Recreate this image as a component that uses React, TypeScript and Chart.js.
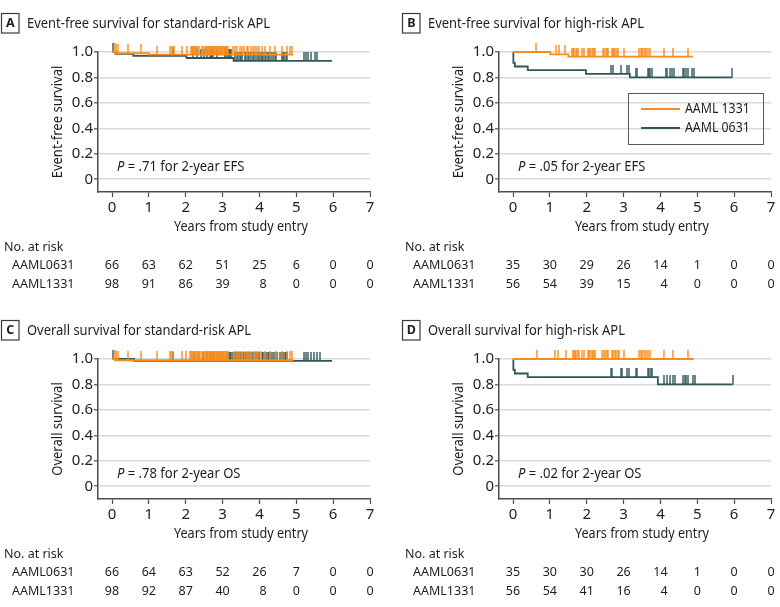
import React, { useEffect, useRef } from 'react';
import { Chart, registerables } from 'chart.js';

Chart.register(...registerables);

const FONT = '"Noto Sans", "Open Sans", Arial, sans-serif';
const ORANGE = '#F98C1C';
const TEAL = '#2F5757';
const TEXT = '#1e1e1e';
const AXIS = '#4d4d4d';
const GRID = '#d9d9d9';

// ---- tick labels & categories ----
const yearTicks = [0, 1, 2, 3, 4, 5, 6, 7];
const survivalTicks = [0, 0.2, 0.4, 0.6, 0.8, 1.0];
const riskGroups = ['AAML0631', 'AAML1331'];
const legendLabels = ['AAML 1331', 'AAML 0631'];

// ---- Panel A: EFS standard-risk ----
const efsStd0631Events = [[0.1, 0.985], [0.58, 0.969], [2.02, 0.953], [3.3, 0.93]];
const efsStd0631Censor = [0.04, 1.66, 2.2, 2.31, 2.42, 2.5, 2.57, 2.65, 2.68, 2.71, 2.74, 2.86, 3.06, 3.1, 3.15, 3.18, 3.21, 3.24, 3.35, 3.38, 3.42, 3.46, 3.5, 3.53, 3.6, 3.63, 3.68, 3.72, 3.77, 3.82, 3.86, 3.9, 3.95, 3.99, 4.03, 4.07, 4.11, 4.15, 4.19, 4.23, 4.27, 4.32, 4.36, 4.41, 4.46, 4.6, 4.63, 4.67, 4.71, 4.75, 5.2, 5.26, 5.32, 5.4, 5.5, 5.56];
const efsStd0631End = 5.97;
const efsStd1331Events = [[0.08, 0.99], [1.0, 0.98]];
const efsStd1331Censor = [0.07, 0.12, 0.16, 0.44, 0.8, 1.22, 1.58, 1.62, 1.67, 1.9, 2.04, 2.14, 2.17, 2.19, 2.21, 2.24, 2.26, 2.29, 2.31, 2.34, 2.37, 2.43, 2.48, 2.52, 2.55, 2.57, 2.6, 2.62, 2.64, 2.67, 2.69, 2.71, 2.73, 2.76, 2.78, 2.8, 2.82, 2.85, 2.87, 2.89, 2.91, 2.93, 2.95, 2.97, 2.99, 3.01, 3.03, 3.06, 3.08, 3.1, 3.12, 3.15, 3.29, 3.34, 3.4, 3.47, 3.52, 3.58, 3.65, 3.69, 3.76, 3.82, 3.88, 3.94, 3.98, 4.06, 4.15, 4.29, 4.42, 4.6, 4.74, 4.82, 4.88];
const efsStd1331End = 4.92;
const riskA0631 = [66, 63, 62, 51, 25, 6, 0, 0];
const riskA1331 = [98, 91, 86, 39, 8, 0, 0, 0];

// ---- Panel B: EFS high-risk ----
const efsHigh0631Events = [[0.01, 0.914], [0.05, 0.886], [0.4, 0.857], [1.98, 0.828], [3.17, 0.8]];
const efsHigh0631Censor = [2.65, 2.71, 2.92, 3.1, 3.14, 3.34, 3.37, 3.66, 3.7, 3.73, 3.77, 4.14, 4.17, 4.27, 4.31, 4.38, 4.6, 4.65, 4.69, 4.74, 4.87, 4.92, 5.95];
const efsHigh0631End = 5.95;
const efsHigh1331Events = [[1.01, 0.982], [1.5, 0.964]];
const efsHigh1331Censor = [0.63, 1.17, 1.24, 1.42, 1.6, 1.63, 1.66, 1.7, 1.73, 1.76, 1.87, 1.93, 2.04, 2.07, 2.1, 2.13, 2.16, 2.19, 2.23, 2.43, 2.47, 2.51, 2.55, 2.59, 2.68, 2.71, 2.74, 2.78, 2.82, 2.86, 3.0, 3.43, 3.46, 3.5, 3.54, 3.58, 3.62, 3.66, 3.73, 4.1, 4.33, 4.74];
const efsHigh1331End = 4.88;
const riskB0631 = [35, 30, 29, 26, 14, 1, 0, 0];
const riskB1331 = [56, 54, 39, 15, 4, 0, 0, 0];

// ---- Panel C: OS standard-risk ----
const osStd0631Events = [[0.6, 0.985]];
const osStd0631Censor = [0.04, 1.66, 2.22, 2.36, 2.47, 2.58, 2.66, 2.7, 2.78, 2.88, 2.96, 3.13, 3.17, 3.2, 3.24, 3.28, 3.33, 3.37, 3.41, 3.46, 3.5, 3.55, 3.6, 3.64, 3.68, 3.74, 3.8, 3.85, 3.9, 3.95, 3.99, 4.06, 4.1, 4.14, 4.18, 4.22, 4.26, 4.3, 4.35, 4.39, 4.44, 4.48, 4.57, 4.61, 4.65, 4.69, 4.73, 4.76, 5.2, 5.27, 5.33, 5.4, 5.47, 5.55, 5.64];
const osStd0631End = 5.97;
const osStd1331Events = [[0.08, 0.99]];
const osStd1331Censor = [0.07, 0.12, 0.17, 0.44, 0.78, 1.21, 1.57, 1.61, 1.65, 1.9, 2.0, 2.12, 2.15, 2.18, 2.2, 2.23, 2.25, 2.28, 2.3, 2.33, 2.36, 2.4, 2.44, 2.49, 2.53, 2.56, 2.59, 2.61, 2.63, 2.66, 2.68, 2.7, 2.72, 2.75, 2.77, 2.79, 2.81, 2.84, 2.86, 2.88, 2.9, 2.92, 2.94, 2.96, 2.98, 3.0, 3.02, 3.05, 3.07, 3.09, 3.12, 3.14, 3.3, 3.36, 3.42, 3.48, 3.53, 3.6, 3.66, 3.72, 3.78, 3.84, 3.9, 3.96, 4.05, 4.14, 4.3, 4.45, 4.62, 4.75, 4.83, 4.88];
const osStd1331End = 4.92;
const riskC0631 = [66, 64, 63, 52, 26, 7, 0, 0];
const riskC1331 = [98, 92, 87, 40, 8, 0, 0, 0];

// ---- Panel D: OS high-risk ----
const osHigh0631Events = [[0.01, 0.914], [0.05, 0.886], [0.4, 0.857], [3.93, 0.8]];
const osHigh0631Censor = [2.65, 2.68, 2.92, 2.95, 3.1, 3.14, 3.34, 3.37, 3.66, 3.7, 3.75, 3.78, 4.11, 4.17, 4.26, 4.33, 4.4, 4.62, 4.66, 4.7, 4.75, 4.89, 4.93, 5.96];
const osHigh0631End = 5.96;
const osHigh1331Events: number[][] = [];
const osHigh1331Censor = [0.66, 1.15, 1.22, 1.43, 1.62, 1.65, 1.68, 1.72, 1.75, 1.78, 1.87, 1.93, 2.04, 2.07, 2.1, 2.14, 2.17, 2.2, 2.23, 2.42, 2.46, 2.5, 2.54, 2.58, 2.69, 2.72, 2.76, 2.8, 2.84, 2.87, 3.0, 3.43, 3.47, 3.51, 3.55, 3.6, 3.65, 3.73, 4.1, 4.33, 4.74];
const osHigh1331End = 4.9;
const riskD0631 = [35, 30, 30, 26, 14, 1, 0, 0];
const riskD1331 = [56, 54, 41, 16, 4, 0, 0, 0];

type Series = { events: number[][]; censor: number[]; end: number; color: string };
type Spec = {
  letter: string;
  title: string;
  yTitle: string;
  pRest: string;
  risk0631: number[];
  risk1331: number[];
  orange: Series;
  teal: Series;
  legend: boolean;
};

const specs: Spec[] = [
  {
    letter: 'A', title: 'Event-free survival for standard-risk APL', yTitle: 'Event-free survival',
    pRest: ' = .71 for 2-year EFS', risk0631: riskA0631, risk1331: riskA1331, legend: false,
    orange: { events: efsStd1331Events, censor: efsStd1331Censor, end: efsStd1331End, color: ORANGE },
    teal: { events: efsStd0631Events, censor: efsStd0631Censor, end: efsStd0631End, color: TEAL },
  },
  {
    letter: 'B', title: 'Event-free survival for high-risk APL', yTitle: 'Event-free survival',
    pRest: ' = .05 for 2-year EFS', risk0631: riskB0631, risk1331: riskB1331, legend: true,
    orange: { events: efsHigh1331Events, censor: efsHigh1331Censor, end: efsHigh1331End, color: ORANGE },
    teal: { events: efsHigh0631Events, censor: efsHigh0631Censor, end: efsHigh0631End, color: TEAL },
  },
  {
    letter: 'C', title: 'Overall survival for standard-risk APL', yTitle: 'Overall survival',
    pRest: ' = .78 for 2-year OS', risk0631: riskC0631, risk1331: riskC1331, legend: false,
    orange: { events: osStd1331Events, censor: osStd1331Censor, end: osStd1331End, color: ORANGE },
    teal: { events: osStd0631Events, censor: osStd0631Censor, end: osStd0631End, color: TEAL },
  },
  {
    letter: 'D', title: 'Overall survival for high-risk APL', yTitle: 'Overall survival',
    pRest: ' = .02 for 2-year OS', risk0631: riskD0631, risk1331: riskD1331, legend: false,
    orange: { events: osHigh1331Events, censor: osHigh1331Censor, end: osHigh1331End, color: ORANGE },
    teal: { events: osHigh0631Events, censor: osHigh0631Censor, end: osHigh0631End, color: TEAL },
  },
];

function survivalAt(events: number[][], t: number) {
  let s = 1;
  for (const [et, ev] of events) if (et <= t) s = ev;
  return s;
}
function curvePoints(events: number[][], end: number) {
  const pts = [{ x: 0, y: 1 }];
  for (const [t, s] of events) pts.push({ x: t, y: s });
  pts.push({ x: end, y: survivalAt(events, end) });
  return pts;
}
function censorPoints(events: number[][], censor: number[]) {
  return censor.map((t) => ({ x: t, y: survivalAt(events, t) }));
}
function markImage(color: string) {
  const c = document.createElement('canvas');
  c.width = 2;
  c.height = 18;
  const g = c.getContext('2d')!;
  g.fillStyle = color;
  g.fillRect(0.3, 0, 1.4, 9);
  return c;
}

function drawText(
  ctx: CanvasRenderingContext2D, str: string, x: number, y: number, size: number,
  opts: { align?: CanvasTextAlign; sx?: number; weight?: string; style?: string; color?: string } = {}
) {
  const { align = 'left', sx = 1, weight = 'normal', style = 'normal', color = TEXT } = opts;
  ctx.save();
  ctx.font = `${style} ${weight} ${size}px ${FONT}`;
  ctx.fillStyle = color;
  ctx.textAlign = align;
  ctx.textBaseline = 'middle';
  ctx.translate(x, y);
  ctx.scale(sx, 1);
  ctx.fillText(str, 0, 0);
  const w = ctx.measureText(str).width * sx;
  ctx.restore();
  return w;
}

function makeAnnotate(spec: Spec) {
  return {
    id: 'annotate',
    afterDraw(chart: any) {
      const ctx: CanvasRenderingContext2D = chart.ctx;
      const xs = chart.scales.x;
      const ys = chart.scales.y;
      const area = chart.chartArea;
      // panel letter box
      ctx.save();
      ctx.strokeStyle = '#3a3a3a';
      ctx.lineWidth = 1.2;
      ctx.strokeRect(1.5, 13.5, 17.5, 19.5);
      ctx.restore();
      drawText(ctx, spec.letter, 10.3, 23.5, 12.5, { align: 'center', weight: 'bold' });
      drawText(ctx, spec.title, 27, 24, 14, { sx: 0.925 });
      // y title
      ctx.save();
      ctx.translate(58, (area.top + area.bottom) / 2);
      ctx.rotate(-Math.PI / 2);
      drawText(ctx, spec.yTitle, 0, 0, 14, { align: 'center', sx: 0.93 });
      ctx.restore();
      // x title
      drawText(ctx, 'Years from study entry', xs.getPixelForValue(3.5), area.bottom + 35, 14, { align: 'center', sx: 0.9 });
      // p value
      const px = xs.getPixelForValue(0) + 5;
      const py = ys.getPixelForValue(0.1);
      const w = drawText(ctx, 'P', px, py, 14, { style: 'italic', sx: 0.93 });
      drawText(ctx, spec.pRest, px + w, py, 14, { sx: 0.93 });
      // legend
      if (spec.legend) {
        ctx.save();
        ctx.strokeStyle = '#5a5a5a';
        ctx.lineWidth = 1;
        ctx.strokeRect(227.5, 93.5, 135, 51);
        ctx.lineWidth = 2;
        ctx.strokeStyle = ORANGE;
        ctx.beginPath(); ctx.moveTo(240, 109); ctx.lineTo(279, 109); ctx.stroke();
        ctx.strokeStyle = TEAL;
        ctx.beginPath(); ctx.moveTo(240, 128); ctx.lineTo(279, 128); ctx.stroke();
        ctx.restore();
        drawText(ctx, legendLabels[0], 284, 109, 14, { sx: 0.88 });
        drawText(ctx, legendLabels[1], 284, 128, 14, { sx: 0.88 });
      }
      // risk table
      const rowY = [265.5, 284.5];
      drawText(ctx, 'No. at risk', 4, 247.5, 12.5);
      riskGroups.forEach((g, i) => drawText(ctx, g, 12, rowY[i], 12.5));
      yearTicks.forEach((yr, k) => {
        const vals = [spec.risk0631[k], spec.risk1331[k]].map(String);
        ctx.save();
        ctx.font = `normal normal 12.5px ${FONT}`;
        const maxW = Math.max(...vals.map((v) => ctx.measureText(v).width));
        ctx.restore();
        const right = xs.getPixelForValue(yr) + maxW / 2;
        vals.forEach((v, i) => drawText(ctx, v, right, rowY[i], 12.5, { align: 'right' }));
      });
    },
  };
}

function Panel({ spec, left, top, width }: { spec: Spec; left: number; top: number; width: number }) {
  const ref = useRef<HTMLCanvasElement>(null);
  useEffect(() => {
    const series = [spec.orange, spec.teal];
    const datasets: any[] = [];
    series.forEach((s) => {
      datasets.push({
        data: curvePoints(s.events, s.end),
        borderColor: s.color,
        borderWidth: 1.8,
        stepped: true,
        pointRadius: 0,
        pointHoverRadius: 0,
        fill: false,
        clip: false,
      });
      datasets.push({
        data: censorPoints(s.events, s.censor),
        showLine: false,
        pointStyle: markImage(s.color),
        pointRadius: 5,
        pointHoverRadius: 5,
        borderColor: s.color,
        backgroundColor: s.color,
        clip: false,
      });
    });
    const chart = new Chart(ref.current!, {
      type: 'line',
      data: { datasets },
      options: {
        animation: false,
        responsive: false,
        maintainAspectRatio: false,
        events: [],
        layout: { padding: { left: 0, right: width - 370, top: 52, bottom: 300 - 192 - 40 } },
        plugins: { legend: { display: false }, tooltip: { enabled: false }, title: { display: false } },
        scales: {
          x: {
            type: 'linear',
            min: -0.38,
            max: 7,
            afterBuildTicks: (s: any) => { s.ticks = yearTicks.map((v) => ({ value: v })); },
            afterFit: (s: any) => { s.height = 40; },
            grid: { drawOnChartArea: false, drawTicks: true, tickLength: 5, tickColor: AXIS, tickWidth: 1.2 },
            border: { display: true, color: AXIS, width: 1.5 },
            ticks: { color: '#222', font: { family: FONT, size: 15 }, padding: 2, maxRotation: 0, autoSkip: false },
          },
          y: {
            type: 'linear',
            min: -0.1,
            max: 1,
            afterBuildTicks: (s: any) => { s.ticks = survivalTicks.map((v) => ({ value: v })); },
            afterFit: (s: any) => { s.width = 98; },
            grid: { color: GRID, lineWidth: 1.6, tickLength: 4, tickColor: AXIS, tickWidth: 1.2 },
            border: { display: true, color: AXIS, width: 1.5 },
            ticks: {
              color: '#222',
              font: { family: FONT, size: 15 },
              padding: 1,
              autoSkip: false,
              callback: (v: any) => (Number(v) === 0 ? '0' : Number(v).toFixed(1)),
            },
          },
        },
      } as any,
      plugins: [makeAnnotate(spec)],
    });
    return () => chart.destroy();
  }, []);
  return (
    <canvas
      ref={ref}
      width={width}
      height={300}
      style={{ position: 'absolute', left, top, width, height: 300, display: 'block' }}
    />
  );
}

export default function App() {
  return (
    <div style={{ position: 'absolute', left: 0, top: 0, width: 780, height: 607, background: '#fff', overflow: 'hidden' }}>
      <Panel spec={specs[0]} left={0} top={0} width={390} />
      <Panel spec={specs[1]} left={401} top={0} width={379} />
      <Panel spec={specs[2]} left={0} top={307} width={390} />
      <Panel spec={specs[3]} left={401} top={307} width={379} />
    </div>
  );
}
